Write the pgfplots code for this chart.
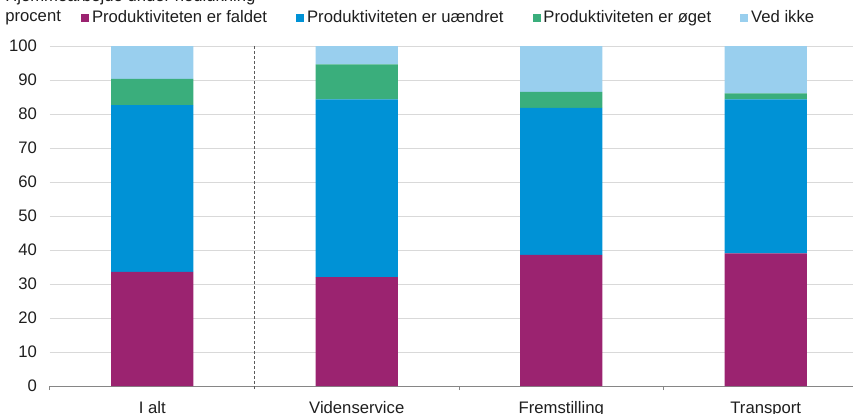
\documentclass[border=0pt]{standalone}
\usepackage{fontspec}
\setmainfont{Liberation Sans}
\usepackage{pgfplots}
\usepackage{pgfplotstable}
\pgfplotsset{compat=1.18}
\definecolor{cPurple}{RGB}{155,35,112}
\definecolor{cBlue}{RGB}{0,146,214}
\definecolor{cGreen}{RGB}{58,174,124}
\definecolor{cLight}{RGB}{153,207,238}
\definecolor{cText}{RGB}{30,30,30}
\pgfplotstableread{
x faldet uaendret oget vedikke
0 33.6 49.0 7.7 9.7
1 32.0 52.3 10.3 5.4
2 38.6 43.2 4.7 13.5
3 39.0 45.3 1.8 13.9
}\datatable
\begin{document}
\begin{tikzpicture}[x=0.6pt,y=0.6pt,font=\fontsize{10}{12}\selectfont,text=cText]
\useasboundingbox (0,0) rectangle (853,413);
\clip (0,0) rectangle (853,413);
\node[anchor=base west,inner sep=0pt] at (5,411.5) {Hjemmearbejde under nedlukning};
\node[anchor=west,inner sep=0pt] at (5,395) {procent};
\begin{axis}[
  at={(30pt,16.2pt)}, anchor=south west,
  scale only axis, width=481.8pt, height=204pt,
  ybar stacked, bar width=49.2pt,
  xmin=-0.5, xmax=3.4267, ymin=0, ymax=100,
  clip=false,
  axis x line*=bottom, axis y line*=left,
  x axis line style={-, draw={rgb,255:red,134;green,134;blue,134}, line width=0.6pt},
  y axis line style={draw=none},
  xtick={0,1,2,3},
  xticklabels={I alt, Videnservice, Fremstilling, Transport},
  minor xtick={-0.5,1.5,2.5,3.5},
  major x tick style={draw=none},
  minor x tick style={draw={rgb,255:red,134;green,134;blue,134}, line width=0.6pt},
  minor tick length=2.4pt,
  tick align=outside,
  ytick={0,10,...,100},
  major y tick style={draw=none},
  ymajorgrids, grid style={draw={rgb,255:red,217;green,217;blue,217}, line width=0.6pt},
  /pgf/number format/assume math mode=true,
  xticklabel style={anchor=base, yshift=-12pt, text=cText},
  yticklabel style={anchor=east, text=cText},
  legend columns=4,
  legend style={at={(0.0386,1.0824)}, anchor=west, draw=none, fill=none,
     inner sep=0pt, outer sep=0pt, nodes={inner sep=0pt, text=cText},
     /tikz/every odd column/.append style={column sep=1.8pt},
     /tikz/every even column/.append style={column sep=17.4pt}},
  legend cell align=left,
  legend image code/.code={\fill[#1] (0pt,-2.4pt) rectangle (4.8pt,2.4pt);},
]
\addplot[fill=cPurple, draw=none] table[x=x,y=faldet]{\datatable};
\addlegendentry{Produktiviteten er faldet}
\addplot[fill=cBlue, draw=none] table[x=x,y=uaendret]{\datatable};
\addlegendentry{Produktiviteten er uændret}
\addplot[fill=cGreen, draw=none] table[x=x,y=oget]{\datatable};
\addlegendentry{Produktiviteten er øget}
\addplot[fill=cLight, draw=none] table[x=x,y=vedikke]{\datatable};
\addlegendentry{Ved ikke}
\draw[dash pattern=on 1.8pt off 1.2pt, line width=1pt, draw={rgb,255:red,90;green,90;blue,90}]
  (axis cs:0.5,100) -- ([yshift=-2.4pt]axis cs:0.5,0);
\end{axis}
\end{tikzpicture}
\end{document}
